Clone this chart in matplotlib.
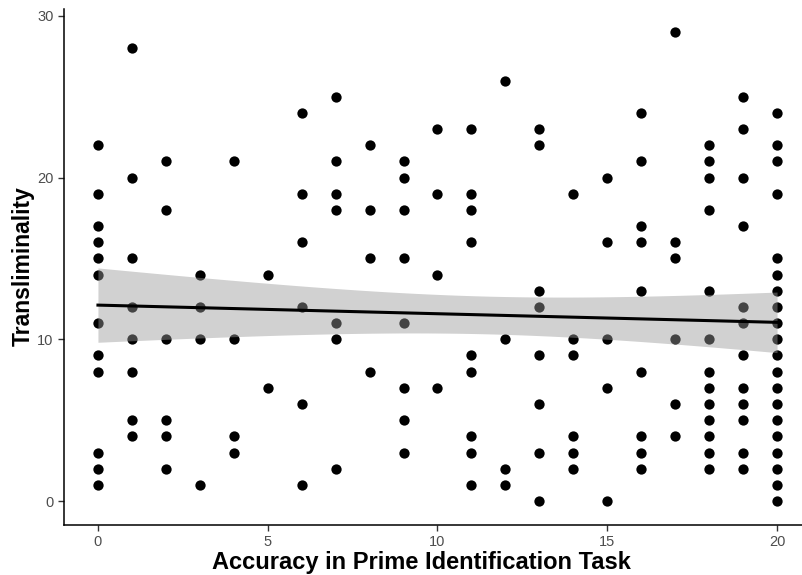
import numpy as np
import matplotlib
matplotlib.use('Agg')
from matplotlib import pyplot as plt

plt.rcParams['font.family'] = ['Liberation Sans', 'DejaVu Sans']

# transliminality values observed at each accuracy score (0..20)
accuracy = list(range(21))
translim = [
    [22, 19, 17, 16, 15, 14, 11, 9, 8, 3, 2, 1],
    [28, 20, 15, 12, 10, 8, 5, 4],
    [21, 18, 10, 5, 4, 2],
    [14, 12, 10, 1],
    [21, 10, 4, 3],
    [14, 7],
    [24, 19, 16, 12, 6, 1],
    [25, 21, 19, 18, 11, 10, 2],
    [22, 18, 15, 8],
    [21, 20, 18, 15, 11, 7, 5, 3],
    [23, 19, 14, 7],
    [23, 19, 18, 16, 9, 8, 4, 3, 1],
    [26, 10, 2, 1],
    [23, 22, 13, 12, 9, 6, 3, 0],
    [19, 10, 9, 4, 3, 2],
    [20, 16, 10, 7, 0],
    [24, 21, 17, 16, 13, 8, 4, 3, 2],
    [29, 16, 15, 10, 6, 4],
    [22, 21, 20, 18, 13, 10, 8, 7, 6, 5, 4, 3, 2],
    [25, 23, 20, 17, 12, 11, 9, 7, 6, 5, 3, 2],
    [24, 22, 21, 19, 15, 14, 13, 12, 11, 10, 9, 8, 7, 6, 5, 4, 3, 2, 1, 0],
]

x = np.array([a for a, vals in zip(accuracy, translim) for _ in vals], dtype=float)
y = np.array([v for vals in translim for v in vals], dtype=float)

# linear fit with 95% confidence band
n = len(x)
slope, icpt = np.polyfit(x, y, 1)
resid = y - (icpt + slope * x)
s = np.sqrt(np.sum(resid**2) / (n - 2))
xs = np.linspace(0, 20, 100)
ys = icpt + slope * xs
se = s * np.sqrt(1.0/n + (xs - x.mean())**2 / np.sum((x - x.mean())**2))
t = 1.976
lo, hi = ys - t*se, ys + t*se

fig = plt.figure(figsize=(8.02, 5.75), dpi=100)
ax = fig.add_axes([64/802, (575-524.5)/575, (811-64)/802, (524.5-8.6)/575])

ax.scatter(x, y, s=55, color='black', linewidths=0, zorder=2)
ax.fill_between(xs, lo, hi, color='#999999', alpha=0.45, linewidth=0, zorder=3)
ax.plot(xs, ys, color='black', lw=2.2, zorder=4)

ax.set_xlim(-1, 21)
ax.set_ylim(-1.45, 30.45)
ax.set_xticks([0, 5, 10, 15, 20])
ax.set_yticks([0, 10, 20, 30])
for sp in ['top', 'right']:
    ax.spines[sp].set_visible(False)
for sp in ['left', 'bottom']:
    ax.spines[sp].set_linewidth(1.1)
ax.tick_params(length=4, width=1, colors='#333333', labelcolor='#4d4d4d', labelsize=10.5)
ax.set_xlabel('Accuracy in Prime Identification Task', fontsize=17, fontweight='bold')
ax.xaxis.set_label_coords(0.479, -0.052)
ax.set_ylabel('Transliminality', fontsize=16.5, fontweight='bold', labelpad=2)

fig.savefig('out.png', dpi=100)
